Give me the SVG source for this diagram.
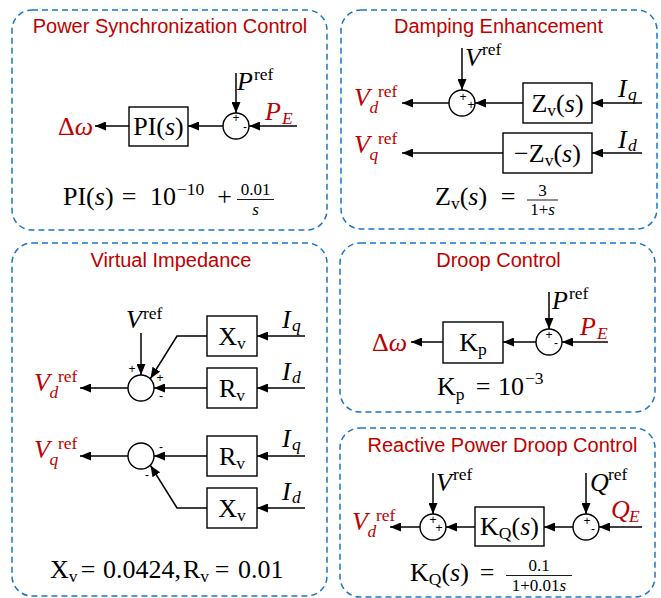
<svg xmlns="http://www.w3.org/2000/svg" width="661" height="598" viewBox="0 0 661 598">
<defs>
<marker id="ah" viewBox="0 0 11 9" refX="11" refY="4.5" markerWidth="11" markerHeight="9" markerUnits="userSpaceOnUse" orient="auto">
<path d="M0,0 L11,4.5 L0,9 Z" fill="#000"/>
</marker>
<style>
.frame{fill:none;stroke:#1a75c9;stroke-width:1.5;stroke-dasharray:6 4}
.title{font-family:"Liberation Sans",Arial,sans-serif;font-size:20px;fill:#c00000;text-anchor:middle}
.blk{fill:#fff;stroke:#000;stroke-width:1.4}
.w{stroke:#000;stroke-width:1.5;fill:none;marker-end:url(#ah)}
.m{font-family:"Liberation Serif","Times New Roman",serif;font-size:26px;fill:#000}
.r{fill:#c00000}
.i{font-style:italic}
.s{font-size:17.5px}
.f{font-size:17px}
.c{text-anchor:middle}
.sg{font-family:"Liberation Sans",Arial,sans-serif;font-size:12px;text-anchor:middle;fill:#000}
.bar{stroke:#000;stroke-width:0.9}
</style>
</defs>
<rect width="661" height="598" fill="#fff"/>

<!-- Panel frames and titles -->
<g id="panel-psc">
<rect class="frame" x="12" y="10" width="315" height="220" rx="20"/>
<text class="title" x="170" y="33">Power Synchronization Control</text>
</g>
<g id="panel-damping">
<rect class="frame" x="341" y="10" width="316" height="219" rx="20"/>
<text class="title" x="498.5" y="33">Damping Enhancement</text>
</g>
<g id="panel-vi">
<rect class="frame" x="12" y="243" width="315" height="353" rx="20"/>
<text class="title" x="171" y="267">Virtual Impedance</text>
</g>
<g id="panel-droop">
<rect class="frame" x="340" y="243" width="315" height="169" rx="20"/>
<text class="title" x="498.5" y="267">Droop Control</text>
</g>
<g id="panel-qdroop">
<rect class="frame" x="340" y="428" width="315" height="169" rx="20"/>
<text class="title" x="502.5" y="452">Reactive Power Droop Control</text>
</g>

<!-- Connectors -->
<g id="connectors">
<line class="w" x1="297" y1="126" x2="249" y2="126"/>
<line class="w" x1="236" y1="73" x2="236" y2="113"/>
<line class="w" x1="223" y1="126" x2="188" y2="126"/>
<line class="w" x1="129" y1="126" x2="95" y2="126"/>
<line class="w" x1="462" y1="48" x2="462" y2="90"/>
<line class="w" x1="449" y1="103" x2="402" y2="103"/>
<line class="w" x1="523" y1="103" x2="475" y2="103"/>
<line class="w" x1="642" y1="103" x2="592" y2="103"/>
<line class="w" x1="503" y1="153" x2="402" y2="153"/>
<line class="w" x1="642" y1="153" x2="592" y2="153"/>
<line class="w" x1="141" y1="333" x2="141" y2="375"/>
<line class="w" x1="305" y1="336" x2="257" y2="336"/>
<line class="w" x1="305" y1="388" x2="257" y2="388"/>
<line class="w" x1="305" y1="456" x2="257" y2="456"/>
<line class="w" x1="305" y1="508" x2="257" y2="508"/>
<polyline class="w" points="207,336 177,336 150.5,378.5"/>
<line class="w" x1="207" y1="388" x2="154" y2="388"/>
<line class="w" x1="128" y1="388" x2="80" y2="388"/>
<line class="w" x1="207" y1="456" x2="154" y2="456"/>
<polyline class="w" points="207,508 177,508 150.5,465.5"/>
<line class="w" x1="128" y1="456" x2="80" y2="456"/>
<line class="w" x1="608" y1="342" x2="562" y2="342"/>
<line class="w" x1="549" y1="292" x2="549" y2="329"/>
<line class="w" x1="536" y1="342" x2="503" y2="342"/>
<line class="w" x1="443" y1="342" x2="411" y2="342"/>
<line class="w" x1="433" y1="473" x2="433" y2="514"/>
<line class="w" x1="586" y1="473" x2="586" y2="514"/>
<line class="w" x1="642" y1="527" x2="599" y2="527"/>
<line class="w" x1="573" y1="527" x2="544" y2="527"/>
<line class="w" x1="475" y1="527" x2="446" y2="527"/>
<line class="w" x1="420" y1="527" x2="390" y2="527"/>
</g>

<!-- Panel 1 nodes -->
<g id="p1-pi">
<rect class="blk" x="129" y="107" width="59" height="39"/>
<text class="m c" x="158.5" y="135">PI(<tspan class="i">s</tspan>)</text>
</g>
<g id="p1-sum">
<circle class="blk" cx="236" cy="126" r="13"/>
<text class="sg" x="236" y="122">+</text>
<text class="sg" x="245" y="131">-</text>
</g>
<g id="p1-labels">
<text class="m r" x="58" y="135">Δ<tspan class="i">ω</tspan></text>
<text class="m"><tspan class="i" x="237" y="90">P</tspan><tspan class="s" x="254" y="80">ref</tspan></text>
<text class="m r"><tspan class="i" x="265" y="120">P</tspan><tspan class="s i" x="282" y="124">E</tspan></text>
</g>
<g id="p1-formula">
<text class="m" x="63" y="205">PI(<tspan class="i">s</tspan>)</text>
<text class="m c" x="129" y="205">=</text>
<text class="m" x="150" y="205">10</text>
<text class="m s" x="177" y="195">−10</text>
<text class="m c" x="224.5" y="205">+</text>
<text class="m f c" x="255.5" y="195">0.01</text>
<line class="bar" x1="237" y1="199.5" x2="274" y2="199.5"/>
<text class="m f c i" x="255.5" y="214.5">s</text>
</g>

<!-- Panel 2 nodes -->
<g id="p2-sum">
<circle class="blk" cx="462" cy="103" r="13"/>
<text class="sg" x="463" y="101">+</text>
<text class="sg" x="471" y="109">+</text>
</g>
<g id="p2-zv">
<rect class="blk" x="523" y="83" width="69" height="40"/>
<text class="m c" x="557.5" y="112">Z<tspan class="s" dy="4">v</tspan><tspan dy="-4">(</tspan><tspan class="i">s</tspan>)</text>
</g>
<g id="p2-mzv">
<rect class="blk" x="503" y="133" width="89" height="40"/>
<text class="m c" x="547.5" y="162">−Z<tspan class="s" dy="4">v</tspan><tspan dy="-4">(</tspan><tspan class="i">s</tspan>)</text>
</g>
<g id="p2-labels">
<text class="m"><tspan class="i" x="465" y="66">V</tspan><tspan class="s" x="482" y="55">ref</tspan></text>
<text class="m r"><tspan class="i" x="354" y="106">V</tspan><tspan class="s" x="378" y="97">ref</tspan><tspan class="s i" x="369.5" y="113">d</tspan></text>
<text class="m r"><tspan class="i" x="354" y="153">V</tspan><tspan class="s" x="378" y="144">ref</tspan><tspan class="s i" x="369.5" y="160">q</tspan></text>
<text class="m"><tspan class="i" x="618" y="97">I</tspan><tspan class="s i" x="628" y="100">q</tspan></text>
<text class="m"><tspan class="i" x="618" y="148">I</tspan><tspan class="s i" x="628" y="151">d</tspan></text>
</g>
<g id="p2-formula">
<text class="m" x="435" y="205">Z<tspan class="s" dy="4">v</tspan><tspan dy="-4">(</tspan><tspan class="i">s</tspan>)</text>
<text class="m c" x="508" y="205">=</text>
<text class="m f c" x="542.5" y="195.5">3</text>
<line class="bar" x1="527" y1="200" x2="558" y2="200"/>
<text class="m f c" x="542.5" y="215">1+<tspan class="i">s</tspan></text>
</g>

<!-- Panel 3 nodes -->
<g id="p3-sum1">
<circle class="blk" cx="141" cy="388" r="13"/>
<text class="sg" x="132" y="373">+</text>
<text class="sg" x="160" y="382">+</text>
<text class="sg" x="161" y="400">-</text>
</g>
<g id="p3-sum2">
<circle class="blk" cx="141" cy="456" r="13"/>
<text class="sg" x="161" y="451">-</text>
<text class="sg" x="147" y="479">-</text>
</g>
<g id="p3-xv1">
<rect class="blk" x="207" y="316" width="50" height="40"/>
<text class="m c" x="232" y="345">X<tspan class="s" dy="4">v</tspan></text>
</g>
<g id="p3-rv1">
<rect class="blk" x="207" y="368" width="50" height="40"/>
<text class="m c" x="232" y="397">R<tspan class="s" dy="4">v</tspan></text>
</g>
<g id="p3-rv2">
<rect class="blk" x="207" y="436" width="50" height="40"/>
<text class="m c" x="232" y="465">R<tspan class="s" dy="4">v</tspan></text>
</g>
<g id="p3-xv2">
<rect class="blk" x="207" y="488" width="50" height="40"/>
<text class="m c" x="232" y="517">X<tspan class="s" dy="4">v</tspan></text>
</g>
<g id="p3-labels">
<text class="m"><tspan class="i" x="126" y="328">V</tspan><tspan class="s" x="143" y="319">ref</tspan></text>
<text class="m r"><tspan class="i" x="34" y="391">V</tspan><tspan class="s" x="58" y="382">ref</tspan><tspan class="s i" x="49.5" y="398">d</tspan></text>
<text class="m r"><tspan class="i" x="34" y="458">V</tspan><tspan class="s" x="58" y="449">ref</tspan><tspan class="s i" x="49.5" y="465">q</tspan></text>
<text class="m"><tspan class="i" x="282" y="328">I</tspan><tspan class="s i" x="292" y="331">q</tspan></text>
<text class="m"><tspan class="i" x="282" y="380">I</tspan><tspan class="s i" x="292" y="383">d</tspan></text>
<text class="m"><tspan class="i" x="282" y="447">I</tspan><tspan class="s i" x="292" y="450">q</tspan></text>
<text class="m"><tspan class="i" x="282" y="500">I</tspan><tspan class="s i" x="292" y="503">d</tspan></text>
</g>
<g id="p3-formula">
<text class="m" x="50" y="578">X<tspan class="s" dy="4">v</tspan></text>
<text class="m c" x="88" y="578">=</text>
<text class="m" x="103" y="578">0.0424,</text>
<text class="m" x="183" y="578">R<tspan class="s" dy="4">v</tspan></text>
<text class="m c" x="222" y="578">=</text>
<text class="m" x="238" y="578">0.01</text>
</g>

<!-- Panel 4 nodes -->
<g id="p4-kp">
<rect class="blk" x="443" y="322" width="60" height="41"/>
<text class="m c" x="473" y="351">K<tspan class="s" dy="4">p</tspan></text>
</g>
<g id="p4-sum">
<circle class="blk" cx="549" cy="342" r="13"/>
<text class="sg" x="549" y="339">+</text>
<text class="sg" x="556" y="347">-</text>
</g>
<g id="p4-labels">
<text class="m r" x="372" y="351">Δ<tspan class="i">ω</tspan></text>
<text class="m"><tspan class="i" x="552" y="309">P</tspan><tspan class="s" x="569" y="299">ref</tspan></text>
<text class="m r"><tspan class="i" x="580" y="335">P</tspan><tspan class="s i" x="597" y="339">E</tspan></text>
</g>
<g id="p4-formula">
<text class="m" x="437" y="395">K<tspan class="s" dy="5">p</tspan></text>
<text class="m c" x="483" y="395">=</text>
<text class="m" x="498" y="395">10</text>
<text class="m s" x="525" y="384">−3</text>
</g>

<!-- Panel 5 nodes -->
<g id="p5-sum1">
<circle class="blk" cx="433" cy="527" r="13"/>
<text class="sg" x="433" y="524">+</text>
<text class="sg" x="439" y="532">+</text>
</g>
<g id="p5-kq">
<rect class="blk" x="475" y="507" width="69" height="39"/>
<text class="m c" x="509.5" y="535">K<tspan class="s" dy="4">Q</tspan><tspan dy="-4">(</tspan><tspan class="i">s</tspan>)</text>
</g>
<g id="p5-sum2">
<circle class="blk" cx="586" cy="527" r="13"/>
<text class="sg" x="587" y="525">+</text>
<text class="sg" x="593" y="533">-</text>
</g>
<g id="p5-labels">
<text class="m"><tspan class="i" x="436" y="491">V</tspan><tspan class="s" x="453" y="480">ref</tspan></text>
<text class="m"><tspan class="i" x="590" y="491">Q</tspan><tspan class="s" x="608" y="480">ref</tspan></text>
<text class="m r"><tspan class="i" x="611" y="518">Q</tspan><tspan class="s i" x="629" y="522">E</tspan></text>
<text class="m r"><tspan class="i" x="352" y="530">V</tspan><tspan class="s" x="376" y="521">ref</tspan><tspan class="s i" x="367.5" y="537">d</tspan></text>
</g>
<g id="p5-formula">
<text class="m" x="410" y="581">K<tspan class="s" dy="4">Q</tspan><tspan dy="-4">(</tspan><tspan class="i">s</tspan>)</text>
<text class="m c" x="487" y="581">=</text>
<text class="m f c" x="539" y="571">0.1</text>
<line class="bar" x1="506" y1="575.5" x2="572" y2="575.5"/>
<text class="m f c" x="539" y="590.5">1+0.01<tspan class="i">s</tspan></text>
</g>
</svg>
